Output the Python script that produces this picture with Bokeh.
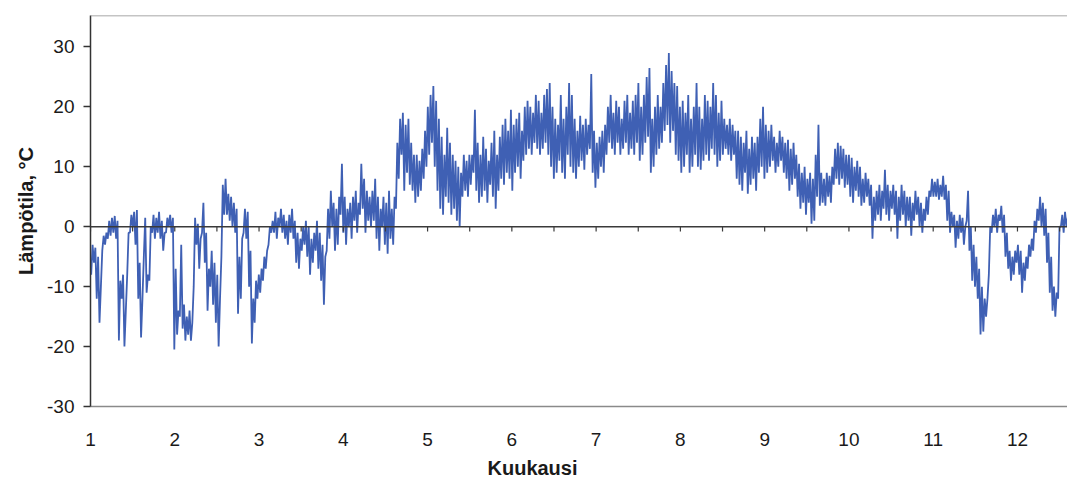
import numpy as np
from bokeh.plotting import figure
from bokeh.models import Range1d, FixedTicker, Span, Title, PrintfTickFormatter
from bokeh.embed import file_html
from bokeh.resources import INLINE

# Daily minimum / maximum temperatures (°C), day 0 = 1 Jan
t_min = [
    -8, -6, -12, -16, -4, -3, -2, -1.5, -1, -2,
    -19, -12, -20, -8, -1, 0, -3, -12, -18.5, -5,
    -11, -9, -1, -2, -1, -2, -4, -1, 0, -1,
    -20.5, -18, -15, -17, -19, -18, -19, -10, -3, -7,
    -1, -6, -14, -10, -13, -16, -20, -5, 2, 2,
    1, 0, -1, -14.5, -12, -1, -2, -10, -19.5, -16,
    -12, -11, -9, -7, -3, -1, -1, -2, 0, -1,
    -2, -3, -1, -2, -6, -7, -4, -3, -5, -8,
    -6, -4, -7, -9, -13, -4, -2, 0, -4, -3,
    2, -1, -3, 0, -2, 1, -1, 2, 3, -1,
    1, 0, 1, -2, -4, 0, -3, -4.5, -2, -3,
    3, 8, 12, 6, 9, 7, 6, 4, 5, 6,
    8, 10, 12, 14, 10, 6, 3, 2, 5, 4,
    2, 3, 1, 0, 5, 6, 5, 7, 9, 6,
    4, 5, 6, 4, 7, 5, 3, 6, 8, 7,
    9, 8, 6, 9, 10, 8, 11, 12, 13, 12,
    14, 13, 12, 13, 14, 12, 10, 8, 9, 11,
    9, 8, 12, 10, 9, 8, 10, 11, 9.5, 12,
    13, 9, 6.5, 8, 10, 9, 12, 14, 13, 12,
    14, 12, 13, 14, 12, 13, 12, 14, 11, 12,
    14, 15, 9, 10, 12, 13, 14, 16, 17, 14,
    16, 12, 11, 9, 10, 12, 9, 10, 12, 10,
    9.5, 11, 12, 11, 13, 12, 10, 11, 12, 13,
    12, 11, 12, 8, 7, 6, 9, 5.5, 7, 8,
    6, 9, 10, 8, 9, 10, 11, 9, 10, 11,
    9, 8, 6, 7, 8, 5, 3, 4, 2, 4,
    0.5, 1, 5, 3.5, 4, 3.5, 5, 4, 7, 8,
    7, 8, 6.5, 7, 5, 4, 6, 5, 3.5, 4,
    5, 3.5, -2, 1, 2, 1, 3, 2, 1, 3,
    2, -2, 1, 2, 0, 1, -1.5, 1, 2, 0,
    -1, 1, 2, 5, 5, 5, 4.5, 5, 4.5, 1,
    -1, 0, -3.5, -2, -1, -3, 1, -4, -9, -10,
    -12, -18, -17.5, -15, -8, -1, 0, -1, 1, -1,
    -5, -7, -9, -8, -6, -8, -11, -9, -7, -5,
    -4, -1, 1, 0, -1.5, -6, -11, -14, -15, -12,
    0, -1, 0,
]
t_max = [
    -3, -3.5, -5, -10, -1.5, -1, 1, 1.5, 1.8, 1,
    -9, -8, -14, -1, 2, 2.5, 2.8, -6, -12, 1.5,
    -8, 0, 2, 1.5, 2.5, 1, -1, 1.5, 2, 1.5,
    -7, -14, -3, -13, -15, -14, -16, 1.5, 0.5, -2,
    4, -1, -7, -4, -6, -8, -12, 7, 8, 5.5,
    5, 4, 3, -5, -2, 3, 2.5, -4, -12, -9,
    -8, -7, -5, -4, 0, 1, 2.5, 1.5, 3, 2,
    1, 2, 3, 1, -1, -2, 0, 1, 0, -2,
    -1, 1, -1, -3, -5, 3, 6, 4, 3, 5,
    10.5, 5, 3, 4, 5, 6, 4, 10.5, 8, 6,
    5, 6, 8, 5, 3, 5, 4, 6, 3, 5,
    14, 18, 19, 17, 18, 14, 12, 12, 11, 13,
    16, 20, 22, 23.5, 21, 18, 15, 12, 16.5, 14,
    12, 11, 10, 9, 12, 11, 12, 12, 19.5, 14,
    12, 15, 13, 11, 14, 16, 12, 15, 17, 18,
    16, 19.5, 17, 18, 19, 16, 20, 21, 20, 19,
    22, 21, 19, 22, 23, 24, 20, 18, 17, 22,
    18, 20, 24, 22, 18, 16, 18.5, 17, 18, 17,
    25.5, 16, 14, 15, 16, 17, 20, 22, 19, 21,
    20, 18, 21, 22, 19, 21, 22, 24, 20, 22,
    25, 26.5, 18, 20, 22, 20, 24, 27, 29, 26,
    24, 23.5, 20, 21, 19, 22, 18, 20, 24, 20,
    18, 22, 21, 20, 24, 22, 19, 21, 18, 17,
    18, 17, 16, 16, 15, 14, 16, 13, 15, 14,
    15, 18, 20, 17, 16, 17, 15, 14, 16, 15,
    14, 14.5, 13, 14, 12, 10.5, 9, 10, 8, 9,
    8, 12, 17, 9, 8, 9, 8.5, 10, 13, 14,
    13.5, 13, 12, 12, 11.5, 10, 11, 10, 8, 9,
    8, 7, 5, 6, 7, 6, 9.5, 7, 6, 7,
    6, 5, 7, 6, 5, 5, 4, 6, 5, 4,
    3, 5, 6, 8, 7.5, 8, 7, 8.5, 7, 6,
    2.5, 2, 1, 2, 1.5, 0, 6, 0, -3, -5,
    -7, -10, -12, -12, 0, 2, 3, 2, 3.5, 2,
    -1, -4, -5, -4, -3, -4, -6, -5, -3, -2,
    1, 3, 5, 4, 3, -1, -5, -10, -11, 0,
    2, 2.5, 1.5,
]

y_ticks = [-30, -20, -10, 0, 10, 20, 30]
x_ticks = [1, 2, 3, 4, 5, 6, 7, 8, 9, 10, 11, 12]
y_title = "Lämpötila, °C"
x_title = "Kuukausi"

# build the trace: min then max within each day
n = len(t_min)
days = np.arange(n)
xs = np.empty(2 * n)
ys = np.empty(2 * n)
xs[0::2] = 1 + (days + 0.25) * 12 / 365
xs[1::2] = 1 + (days + 0.75) * 12 / 365
ys[0::2] = t_min
ys[1::2] = t_max

FONT = "Liberation Sans"
px_per_month = 84.27
W, H = 1067, 484
left, top, bottom = 90, 15, 78
frame_w = W - left

p = figure(width=W, height=H, output_backend="svg", toolbar_location=None,
           x_range=Range1d(1, 1 + frame_w / px_per_month),
           y_range=Range1d(-30, 35.25),
           min_border_left=left, min_border_top=top, min_border_bottom=bottom,
           min_border_right=0)
p.outline_line_color = None
p.grid.grid_line_color = None
p.background_fill_color = "white"
p.border_fill_color = "white"

p.line(xs, ys, line_color="#3f60b4", line_width=1.8)

# zero line with half-month tick marks
p.add_layout(Span(location=0, dimension="width", line_color="#3a3a3a", line_width=1.3))
half_ticks = np.arange(1, 13, 0.5)
p.segment(x0=half_ticks, y0=np.zeros_like(half_ticks), x1=half_ticks,
          y1=np.full_like(half_ticks, -0.8), line_color="#3a3a3a", line_width=1.2)

# top border of plot area
p.add_layout(Span(location=35.25, dimension="width", line_color="#8a8a8a", line_width=1.5))

# y axis
ya = p.yaxis[0]
ya.ticker = FixedTicker(ticks=y_ticks)
ya.formatter = PrintfTickFormatter(format="%d")
ya.axis_line_color = "#333333"
ya.axis_line_width = 1.5
ya.major_tick_line_color = "#333333"
ya.major_tick_line_width = 1.3
ya.major_tick_out = 7
ya.major_tick_in = 0
ya.minor_tick_line_color = None
ya.major_label_text_font = FONT
ya.major_label_text_font_size = "19px"
ya.major_label_text_color = "#1a1a1a"
ya.major_label_standoff = 9
ya.axis_label = y_title
ya.axis_label_text_font = FONT
ya.axis_label_text_font_size = "20px"
ya.axis_label_text_font_style = "bold"
ya.axis_label_text_color = "#1a1a1a"
ya.axis_label_standoff = 7

# x axis (bottom border + labels)
xa = p.xaxis[0]
xa.ticker = FixedTicker(ticks=x_ticks)
xa.formatter = PrintfTickFormatter(format="%d")
xa.axis_line_color = "#8a8a8a"
xa.axis_line_width = 1.5
xa.major_tick_line_color = None
xa.major_tick_out = 0
xa.major_tick_in = 0
xa.minor_tick_line_color = None
xa.major_label_text_font = FONT
xa.major_label_text_font_size = "19px"
xa.major_label_text_color = "#1a1a1a"
xa.major_label_standoff = 26

p.add_layout(Title(text=x_title, align="left", offset=397, standoff=12,
                   vertical_align="bottom",
                   text_font=FONT, text_font_size="20px", text_font_style="bold",
                   text_color="#1a1a1a"), "below")

open("out.html", "w").write(file_html(p, INLINE))
